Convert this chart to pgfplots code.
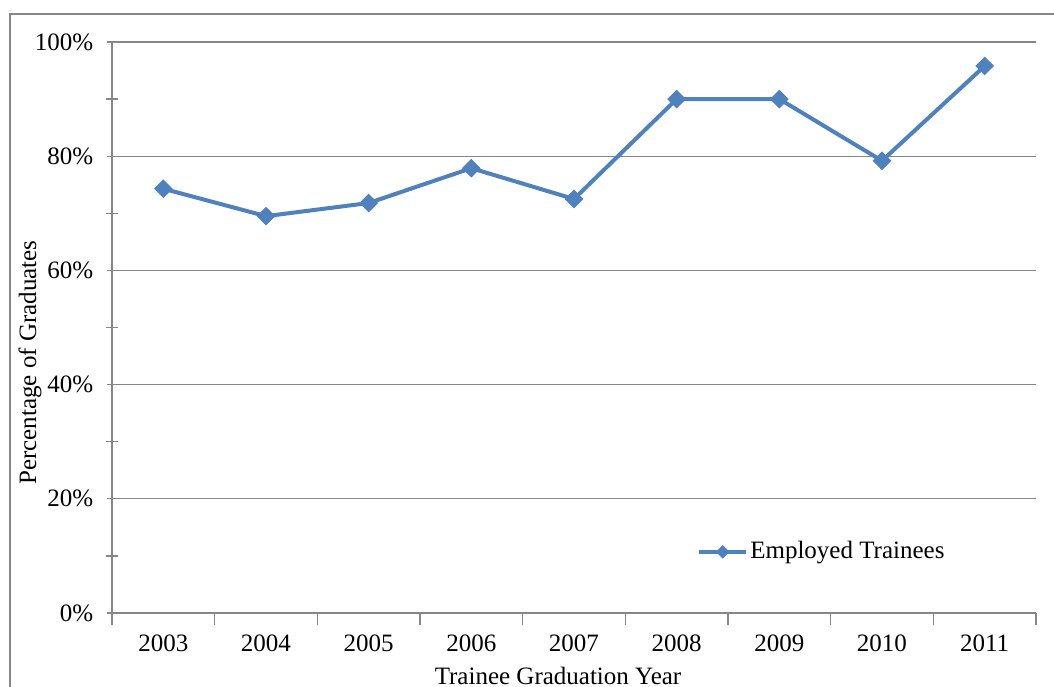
\documentclass[border=0pt]{standalone}
\usepackage{pgfplots}
\pgfplotsset{compat=1.18}
\usepackage{fontspec}
\setmainfont{Liberation Serif}
\definecolor{serieblue}{HTML}{4F81BD}
\definecolor{axisgray}{HTML}{868686}
\begin{document}
\fontsize{12.5}{15}\selectfont
\begin{tikzpicture}
% outer chart frame (only left and top edges are inside the picture)
\draw[axisgray, line width=1.1pt] (5pt,-10pt) -- (5pt,336pt) -- (540pt,336pt);
\begin{axis}[
    at={(56pt,36.5pt)}, anchor=south west,
    scale only axis,
    width=462pt, height=285.5pt,
    xmin=-0.5, xmax=8.5,
    ymin=0, ymax=100,
    axis lines*=left,
    axis line style={axisgray, line width=0.6pt},
    xtick={0,...,8},
    xticklabels={2003,2004,2005,2006,2007,2008,2009,2010,2011},
    minor xtick={-0.5,0.5,...,8.5},
    major x tick style={draw=none},
    minor x tick style={axisgray, line width=0.6pt, yshift=-3pt},
    ytick={0,20,...,100},
    yticklabels={0\%,20\%,40\%,60\%,80\%,100\%},
    minor ytick={10,30,...,90},
    y tick style={axisgray, line width=0.6pt},
    tick align=center,
    major tick length=5pt,
    minor tick length=6pt,
    ymajorgrids,
    grid style={axisgray, line width=0.6pt},
    /pgf/number format/assume math mode=true,
    xticklabel style={yshift=-4pt},
    yticklabel style={xshift=-2.5pt},
    xlabel={Trainee Graduation Year},
    ylabel={Percentage of Graduates},
    xlabel style={at={(rel axis cs:0.4827,-0.1103)}, anchor=center},
    ylabel style={at={(rel axis cs:-0.0887,0.4387)}, anchor=center},
    legend style={at={(rel axis cs:0.633,0.107)}, anchor=west,
        draw=none, fill=none, inner sep=0pt,
        nodes={inner sep=1pt}},
    legend cell align=left,
    legend image code/.code={
        \draw[mark repeat=2, mark phase=2, mark size=2.2pt]
        plot coordinates {(0pt,0pt) (11.75pt,0pt) (23.5pt,0pt)};},
]
\addplot[serieblue, line width=2pt, mark=square*, mark size=3.1pt,
    mark options={solid, rotate=45, line width=0.4pt}]
    coordinates {(0,74.3) (1,69.5) (2,71.8) (3,77.9) (4,72.5) (5,90.0) (6,90.0) (7,79.2) (8,95.8)};
\addlegendentry{Employed Trainees}
\end{axis}
\pgfresetboundingbox
\path[use as bounding box] (0pt,0pt) rectangle (527pt,343pt);
\end{tikzpicture}
\end{document}
